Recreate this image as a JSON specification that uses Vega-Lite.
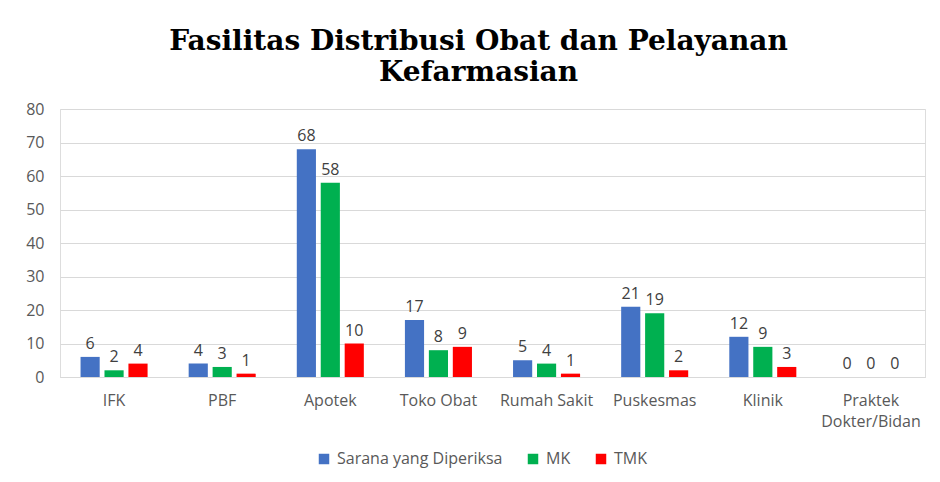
{
  "$schema": "https://vega.github.io/schema/vega-lite/v6.json",
  "autosize": {"type": "none"},
  "width": 865,
  "height": 268,
  "padding": {"left": 60, "top": 109, "right": 15, "bottom": 105},
  "background": "white",
  "title": {
    "text": ["Fasilitas Distribusi Obat dan Pelayanan", "Kefarmasian"],
    "font": "DejaVu Serif",
    "fontSize": 28,
    "fontWeight": "bold",
    "color": "#000000",
    "anchor": "middle",
    "frame": "group",
    "dx": -14,
    "offset": 14,
    "lineHeight": 31
  },
  "data": {
    "values": [
      {"Fasilitas": "IFK", "Kategori": "Sarana yang Diperiksa", "Jumlah": 6},
      {"Fasilitas": "IFK", "Kategori": "MK", "Jumlah": 2},
      {"Fasilitas": "IFK", "Kategori": "TMK", "Jumlah": 4},
      {"Fasilitas": "PBF", "Kategori": "Sarana yang Diperiksa", "Jumlah": 4},
      {"Fasilitas": "PBF", "Kategori": "MK", "Jumlah": 3},
      {"Fasilitas": "PBF", "Kategori": "TMK", "Jumlah": 1},
      {"Fasilitas": "Apotek", "Kategori": "Sarana yang Diperiksa", "Jumlah": 68},
      {"Fasilitas": "Apotek", "Kategori": "MK", "Jumlah": 58},
      {"Fasilitas": "Apotek", "Kategori": "TMK", "Jumlah": 10},
      {"Fasilitas": "Toko Obat", "Kategori": "Sarana yang Diperiksa", "Jumlah": 17},
      {"Fasilitas": "Toko Obat", "Kategori": "MK", "Jumlah": 8},
      {"Fasilitas": "Toko Obat", "Kategori": "TMK", "Jumlah": 9},
      {"Fasilitas": "Rumah Sakit", "Kategori": "Sarana yang Diperiksa", "Jumlah": 5},
      {"Fasilitas": "Rumah Sakit", "Kategori": "MK", "Jumlah": 4},
      {"Fasilitas": "Rumah Sakit", "Kategori": "TMK", "Jumlah": 1},
      {"Fasilitas": "Puskesmas", "Kategori": "Sarana yang Diperiksa", "Jumlah": 21},
      {"Fasilitas": "Puskesmas", "Kategori": "MK", "Jumlah": 19},
      {"Fasilitas": "Puskesmas", "Kategori": "TMK", "Jumlah": 2},
      {"Fasilitas": "Klinik", "Kategori": "Sarana yang Diperiksa", "Jumlah": 12},
      {"Fasilitas": "Klinik", "Kategori": "MK", "Jumlah": 9},
      {"Fasilitas": "Klinik", "Kategori": "TMK", "Jumlah": 3},
      {"Fasilitas": "Praktek Dokter/Bidan", "Kategori": "Sarana yang Diperiksa", "Jumlah": 0},
      {"Fasilitas": "Praktek Dokter/Bidan", "Kategori": "MK", "Jumlah": 0},
      {"Fasilitas": "Praktek Dokter/Bidan", "Kategori": "TMK", "Jumlah": 0}
    ]
  },
  "encoding": {
    "x": {
      "field": "Fasilitas",
      "type": "nominal",
      "sort": null,
      "scale": {"paddingInner": 0.38, "paddingOuter": 0.19},
      "axis": {
        "title": null,
        "labelAngle": 0,
        "labelFont": "Open Sans",
        "labelFontSize": 16,
        "labelColor": "#595959",
        "labelPadding": 15,
        "labelLineHeight": 21,
        "labelExpr": "datum.label == 'Praktek Dokter/Bidan' ? ['Praktek', 'Dokter/Bidan'] : datum.label",
        "ticks": false,
        "domainColor": "#d9d9d9",
        "domainWidth": 1
      }
    },
    "xOffset": {
      "field": "Kategori",
      "type": "nominal",
      "sort": ["Sarana yang Diperiksa", "MK", "TMK"],
      "scale": {"paddingInner": 0.2}
    },
    "y": {
      "field": "Jumlah",
      "type": "quantitative",
      "scale": {"domain": [0, 80]},
      "axis": {
        "title": null,
        "values": [0, 10, 20, 30, 40, 50, 60, 70, 80],
        "labelFont": "Open Sans",
        "labelFontSize": 16,
        "labelColor": "#595959",
        "labelPadding": 16,
        "ticks": false,
        "domain": false,
        "gridColor": "#d9d9d9",
        "gridWidth": 1
      }
    }
  },
  "layer": [
    {
      "mark": {"type": "bar"},
      "encoding": {
        "color": {
          "field": "Kategori",
          "type": "nominal",
          "sort": ["Sarana yang Diperiksa", "MK", "TMK"],
          "scale": {
            "domain": ["Sarana yang Diperiksa", "MK", "TMK"],
            "range": ["#4472c4", "#00b050", "#ff0000"]
          },
          "legend": {
            "title": null,
            "orient": "none",
            "direction": "horizontal",
            "legendX": 256,
            "legendY": 342,
            "symbolType": "square",
            "symbolSize": 110,
            "symbolStrokeWidth": 0,
            "labelFont": "Open Sans",
            "labelFontSize": 16,
            "labelColor": "#595959",
            "labelLimit": 300,
            "columnPadding": 22,
            "labelOffset": 5
          }
        }
      }
    },
    {
      "mark": {
        "type": "text",
        "baseline": "bottom",
        "dy": -5,
        "font": "Open Sans",
        "fontSize": 16,
        "color": "#404040"
      },
      "encoding": {
        "text": {"field": "Jumlah", "type": "quantitative"}
      }
    }
  ]
}
